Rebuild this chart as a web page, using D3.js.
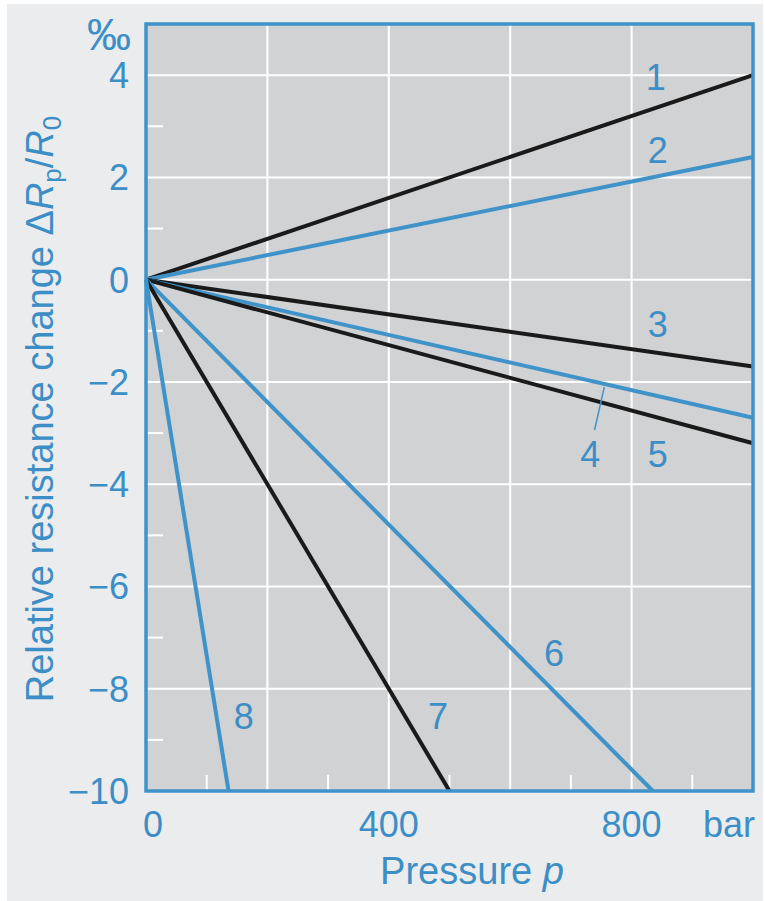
<!DOCTYPE html>
<html>
<head>
<meta charset="utf-8">
<script src="https://cdn.jsdelivr.net/npm/d3@7"></script>
<style>
  body { margin: 0; background: #fff; }
  text { font-family: "Liberation Sans", Arial, sans-serif; fill: #3c8ec6; }
</style>
</head>
<body>
<div id="chart"></div>
<script>
// Curves: straight lines from the origin, end points
const curveIds = ["1", "2", "3", "4", "5", "6", "7", "8"];
const curveColors = ["black", "blue", "black", "blue", "black", "blue", "black", "blue"];
const endPressure = [1000, 1000, 1000, 1000, 1000, 835, 500, 136];
const endChange = [4.0, 2.4, -1.7, -2.7, -3.2, -10, -10, -10];

// Label anchor points (pressure, change)
const labelPressure = [840, 843, 843, 732, 843, 672, 481, 161];
const labelChange = [3.7, 2.29, -1.12, -3.67, -3.67, -7.55, -8.78, -8.78];

const xTicks = [0, 400, 800];
const xGrid = [200, 400, 600, 800];
const xMinor = [100, 300, 500, 700, 900];
const yTicks = [4, 2, 0, -2, -4, -6, -8, -10];
const yGrid = [4, 2, 0, -2, -4, -6, -8];
const yMinor = [3, 1, -1, -3, -5, -7, -9];

const width = 765, height = 901;
const blue = "#3f93c9";

const svg = d3.select("#chart")
  .append("svg")
  .attr("width", width)
  .attr("height", height);

// outer panel
svg.append("rect")
  .attr("x", 7).attr("y", 4)
  .attr("width", 756).attr("height", height - 4)
  .attr("fill", "#ebeced");

const x = d3.scaleLinear().domain([0, 1000]).range([146, 753]);
const y = d3.scaleLinear().domain([-10, 5]).range([791, 24]);

// plot area
svg.append("rect")
  .attr("x", x(0)).attr("y", y(5))
  .attr("width", x(1000) - x(0)).attr("height", y(-10) - y(5))
  .attr("fill", "#d1d2d4");

// grid
svg.selectAll(".vgrid")
  .data(xGrid)
  .enter()
  .append("line")
  .attr("x1", d => x(d)).attr("x2", d => x(d))
  .attr("y1", y(5)).attr("y2", y(-10))
  .attr("stroke", "#fff").attr("stroke-width", 2);

svg.selectAll(".hgrid")
  .data(yGrid)
  .enter()
  .append("line")
  .attr("x1", x(0)).attr("x2", x(1000))
  .attr("y1", d => y(d)).attr("y2", d => y(d))
  .attr("stroke", "#fff").attr("stroke-width", 2);

// minor ticks
svg.selectAll(".xminor")
  .data(xMinor)
  .enter()
  .append("line")
  .attr("x1", d => x(d)).attr("x2", d => x(d))
  .attr("y1", y(-10)).attr("y2", y(-10) - 16)
  .attr("stroke", "#fff").attr("stroke-width", 2);

svg.selectAll(".yminor")
  .data(yMinor)
  .enter()
  .append("line")
  .attr("x1", x(0)).attr("x2", x(0) + 17)
  .attr("y1", d => y(d)).attr("y2", d => y(d))
  .attr("stroke", "#fff").attr("stroke-width", 2);

// curves
const curves = curveIds.map((id, i) => ({
  id: id,
  color: curveColors[i] === "black" ? "#1a1a1a" : blue,
  pts: [[0, 0], [endPressure[i], endChange[i]]]
}));

const line = d3.line().x(d => x(d[0])).y(d => y(d[1]));

svg.selectAll(".curve")
  .data(curves)
  .enter()
  .append("path")
  .attr("d", d => line(d.pts))
  .attr("fill", "none")
  .attr("stroke", d => d.color)
  .attr("stroke-width", 4);

// leader line for curve 4
svg.append("path")
  .attr("d", line([[739, -2.94], [755, -2.1]]))
  .attr("stroke", blue).attr("stroke-width", 1.5).attr("fill", "none");

// curve labels
svg.selectAll(".clabel")
  .data(curveIds)
  .enter()
  .append("text")
  .attr("x", (d, i) => x(labelPressure[i]))
  .attr("y", (d, i) => y(labelChange[i]))
  .attr("text-anchor", "middle")
  .style("font-size", "36px")
  .text(d => d);

// frame
svg.append("rect")
  .attr("x", x(0)).attr("y", y(5))
  .attr("width", x(1000) - x(0)).attr("height", y(-10) - y(5))
  .attr("fill", "none")
  .attr("stroke", blue).attr("stroke-width", 3.5);

// y tick labels
svg.selectAll(".ylab")
  .data(yTicks)
  .enter()
  .append("text")
  .attr("x", 129)
  .attr("y", d => y(d) + 13)
  .attr("text-anchor", "end")
  .style("font-size", "36px")
  .text(d => d < 0 ? "\u2212" + Math.abs(d) : d);

svg.append("text")
  .attr("x", 131).attr("y", 50)
  .attr("text-anchor", "end")
  .style("font-size", "44px")
  .text("\u2030");

// x tick labels
svg.selectAll(".xlab")
  .data(xTicks)
  .enter()
  .append("text")
  .attr("x", d => x(d) + (d === 0 ? 7 : 0))
  .attr("y", 837)
  .attr("text-anchor", "middle")
  .style("font-size", "36px")
  .text(d => d);

svg.append("text")
  .attr("x", 755).attr("y", 837)
  .attr("text-anchor", "end")
  .style("font-size", "36px")
  .text("bar");

// axis titles
const xt = svg.append("text")
  .attr("x", 472).attr("y", 884)
  .attr("text-anchor", "middle")
  .style("font-size", "38px");
xt.append("tspan").text("Pressure ");
xt.append("tspan").style("font-style", "italic").text("p");

const yt = svg.append("text")
  .attr("transform", "translate(53,409) rotate(-90)")
  .attr("text-anchor", "middle")
  .style("font-size", "38px");
yt.append("tspan").text("Relative resistance change \u0394");
yt.append("tspan").style("font-style", "italic").text("R");
yt.append("tspan").attr("dy", 8).style("font-size", "26px").text("p");
yt.append("tspan").attr("dy", -8).text("/");
yt.append("tspan").style("font-style", "italic").text("R");
yt.append("tspan").attr("dy", 8).style("font-size", "26px").text("0");
</script>
</body>
</html>
